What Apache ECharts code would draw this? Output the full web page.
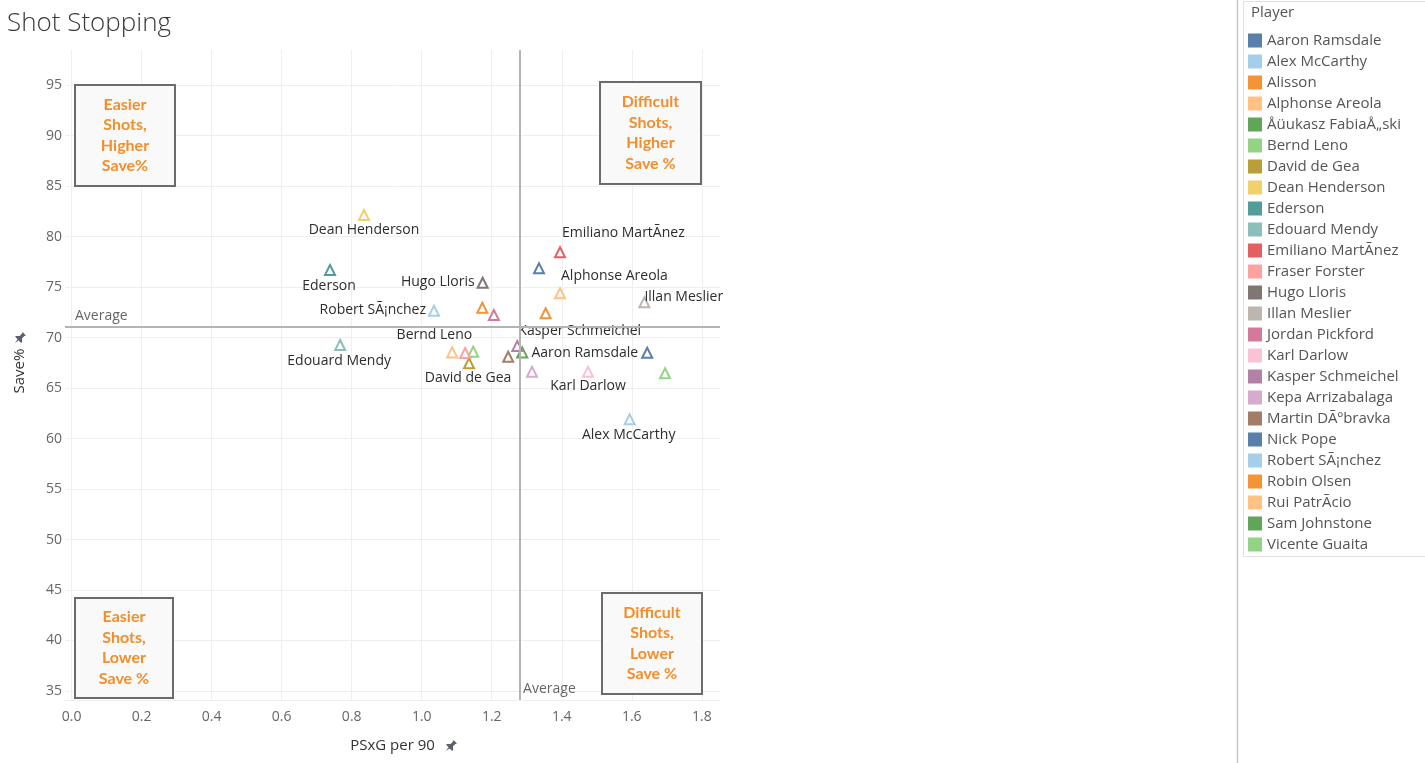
<!DOCTYPE html>
<html><head><meta charset="utf-8">
<script src="https://cdn.jsdelivr.net/npm/echarts@6/dist/echarts.min.js"></script>
<style>html,body{margin:0;padding:0;background:#fff}#c{width:1425px;height:763px}</style>
</head><body><div id="c"></div>
<script>
// ---------------- DATA ----------------
const players = [
  'Aaron Ramsdale','Alex McCarthy','Alisson','Alphonse Areola','Åüukasz FabiaÅ„ski',
  'Bernd Leno','David de Gea','Dean Henderson','Ederson','Edouard Mendy',
  'Emiliano MartÃnez','Fraser Forster','Hugo Lloris','Illan Meslier','Jordan Pickford',
  'Karl Darlow','Kasper Schmeichel','Kepa Arrizabalaga','Martin DÃºbravka','Nick Pope',
  'Robert SÃ¡nchez','Robin Olsen','Rui PatrÃcio','Sam Johnstone','Vicente Guaita'
];
const playerColors = [
  '#4e79a7','#a0cbe8','#f28e2b','#ffbe7d','#59a14f',
  '#8cd17d','#b6992d','#f1ce63','#499894','#86bcb6',
  '#e15759','#ff9d9a','#79706e','#bab0ac','#d37295',
  '#fabfd2','#b07aa1','#d4a6c8','#9d7660','#4e79a7',
  '#a0cbe8','#f28e2b','#ffbe7d','#59a14f','#8cd17d'
];
const psxgPer90 = [
  1.644, 1.594, 1.173, 1.395, 1.287,
  1.147, 1.135, 0.835, 0.738, 0.767,
  1.395, 1.124, 1.174, 1.636, 1.206,
  1.475, 1.273, 1.315, 1.247, 1.335,
  1.035, 1.354, 1.087, null, 1.695
];
const savePct = [
  68.50, 61.90, 72.95, 74.38, 68.53,
  68.60, 67.45, 82.13, 76.68, 69.26,
  78.44, 68.47, 75.43, 73.49, 72.23,
  66.61, 69.16, 66.61, 68.10, 76.85,
  72.65, 72.40, 68.53, null, 66.46
];
const labelledPlayers = [
  'Dean Henderson','Ederson','Hugo Lloris','Robert SÃ¡nchez','Emiliano MartÃnez',
  'Alphonse Areola','Illan Meslier','Edouard Mendy','Bernd Leno','Kasper Schmeichel',
  'Aaron Ramsdale','David de Gea','Karl Darlow','Alex McCarthy'
];
const xTicks = [0, 0.2, 0.4, 0.6, 0.8, 1.0, 1.2, 1.4, 1.6, 1.8];
const yTicks = [35, 40, 45, 50, 55, 60, 65, 70, 75, 80, 85, 90, 95];
const avgPsxg = 1.281;
const avgSave = 71.07;
const quadrantTexts = [
  'Easier\nShots,\nHigher\nSave%',
  'Difficult\nShots,\nHigher\nSave %',
  'Easier\nShots,\nLower\nSave %',
  'Difficult\nShots,\nLower\nSave %'
];

// ---------------- LAYOUT / STYLE ----------------
const labelPlacement = {
  'Dean Henderson':   ['center', 0, 15],
  'Ederson':          ['center', -1, 16],
  'Hugo Lloris':      ['right', -8, -1],
  'Robert SÃ¡nchez':  ['right', -8, -1],
  'Emiliano MartÃnez':['left', 2, -19],
  'Alphonse Areola':  ['left', 1, -17],
  'Illan Meslier':    ['left', 0, -5],
  'Edouard Mendy':    ['center', -1, 16],
  'Bernd Leno':       ['right', -1, -17],
  'Kasper Schmeichel':['left', 1, -15],
  'Aaron Ramsdale':   ['right', -9, 0],
  'David de Gea':     ['center', -1, 15],
  'Karl Darlow':      ['center', 0, 14],
  'Alex McCarthy':    ['center', -1, 16]
};
const quadrantBoxes = [
  {x: 75, y: 85, w: 100, h: 101},
  {x: 600, y: 82, w: 101, h: 102},
  {x: 75, y: 598, w: 98, h: 100},
  {x: 602, y: 593, w: 100, h: 101}
];
const FONT = 'Open Sans, Noto Sans, sans-serif';
const PIN_POINTS = [[3,0],[7,0],[6.4,1.2],[6.4,4],[8.6,6.2],[8.6,7.2],[5.6,7.2],[5,11],[4.4,7.2],[1.4,7.2],[1.4,6.2],[3.6,4],[3.6,1.2]];

const chart = echarts.init(document.getElementById('c'), null, {renderer: 'canvas'});

const series = players.map((name, i) => {
  const data = [];
  if (psxgPer90[i] != null && savePct[i] != null) {
    const item = {value: [psxgPer90[i], savePct[i]], name: name};
    if (labelledPlayers.includes(name)) {
      const p = labelPlacement[name];
      item.label = {
        show: true, position: 'inside', align: p[0], verticalAlign: 'middle',
        offset: [p[1], p[2]], formatter: name,
        color: '#222', fontSize: 14, fontFamily: FONT, textBorderWidth: 0
      };
    }
    data.push(item);
  }
  return {
    name: name,
    type: 'scatter',
    symbol: 'triangle',
    symbolSize: 10,
    data: data,
    itemStyle: {color: 'rgba(255,255,255,0.7)', borderColor: playerColors[i], borderWidth: 2, opacity: 0.95},
    emphasis: {disabled: true},
    z: 3
  };
});

series.push({
  name: '__avg', type: 'scatter', data: [], silent: true, z: 2,
  markLine: {
    silent: true, animation: false, symbol: ['none', 'none'],
    lineStyle: {color: '#b4b4b4', width: 2, type: 'solid'},
    label: {show: false},
    emphasis: {disabled: true},
    data: [{yAxis: avgSave}, {xAxis: avgPsxg}]
  }
});

const option = {
  animation: false,
  backgroundColor: '#fff',
  textStyle: {fontFamily: FONT},
  title: {
    text: 'Shot Stopping', left: 2, top: 6,
    textStyle: {fontSize: 26, fontWeight: 300, color: '#3a3a3a', fontFamily: FONT}
  },
  grid: {left: 65, right: 705, top: 50, bottom: 63, containLabel: false},
  xAxis: {
    type: 'value', min: -0.019, max: 1.852,
    name: 'PSxG per 90', nameLocation: 'middle', nameGap: 38,
    nameTextStyle: {color: '#333', fontSize: 15, fontFamily: FONT},
    axisLine: {show: true, lineStyle: {color: '#eeeeee', width: 1}},
    axisTick: {show: false, customValues: xTicks},
    axisLabel: {customValues: xTicks, color: '#666', fontSize: 14, margin: 10, fontFamily: FONT,
      formatter: v => v.toFixed(1)},
    splitLine: {show: true, customValues: xTicks, lineStyle: {color: '#efefef', width: 1}}
  },
  yAxis: {
    type: 'value', min: 34.11, max: 98.47,
    name: 'Save%', nameLocation: 'middle', nameGap: 38, nameRotate: 90,
    nameTextStyle: {color: '#333', fontSize: 15, fontFamily: FONT, padding: [0, 0, 0, 8]},
    axisLine: {show: false},
    axisTick: {show: false, customValues: yTicks},
    axisLabel: {customValues: yTicks, color: '#666', fontSize: 14, margin: 3, fontFamily: FONT},
    splitLine: {show: true, customValues: yTicks, lineStyle: {color: '#efefef', width: 1}}
  },
  legend: {
    orient: 'vertical', left: 1243, top: 28,
    itemWidth: 14, itemHeight: 14, itemGap: 6,
    icon: 'rect', selectedMode: false,
    textStyle: {color: '#555', fontSize: 15, fontFamily: FONT, padding: [0, 0, 0, 0]},
    data: players.map((n, i) => ({name: n, itemStyle: {color: playerColors[i], borderWidth: 0}}))
  },
  series: series
};
chart.setOption(option);

// Annotations positioned after layout
const hAvgPx = chart.convertToPixel({gridIndex: 0}, [0, avgSave]);
const vAvgPx = chart.convertToPixel({gridIndex: 0}, [avgPsxg, 34.11]);
const graphics = [];
graphics.push({type: 'line', shape: {x1: 1237.5, y1: 0, x2: 1237.5, y2: 763}, style: {stroke: '#c8c8c8', lineWidth: 1.5}, silent: true});
graphics.push({type: 'rect', shape: {x: 1243.5, y: 1.5, width: 190, height: 555}, style: {fill: 'none', stroke: '#e0e0e0', lineWidth: 1}, silent: true});
graphics.push({type: 'text', x: 1251, y: 13, style: {text: 'Player', fill: '#555', fontSize: 15, fontFamily: FONT, verticalAlign: 'middle'}, silent: true});
graphics.push({type: 'text', x: 75, y: hAvgPx[1] - 11, style: {text: 'Average', fill: '#666', fontSize: 14, fontFamily: FONT, verticalAlign: 'middle'}, silent: true});
graphics.push({type: 'text', x: vAvgPx[0] + 3, y: vAvgPx[1] - 11, style: {text: 'Average', fill: '#666', fontSize: 14, fontFamily: FONT, verticalAlign: 'middle'}, silent: true});
// pin icons next to axis titles
graphics.push({type: 'polygon', shape: {points: PIN_POINTS}, x: 446, y: 741, rotation: -Math.PI / 4, originX: 5, originY: 5,
  scaleX: 1.2, scaleY: 1.2, style: {fill: '#5b616b'}, silent: true});
graphics.push({type: 'polygon', shape: {points: PIN_POINTS}, x: 15, y: 333, rotation: -Math.PI / 4, originX: 5, originY: 5,
  scaleX: 1.2, scaleY: 1.2, style: {fill: '#5b616b'}, silent: true});
quadrantBoxes.forEach((b, i) => {
  graphics.push({type: 'rect', shape: {x: b.x, y: b.y, width: b.w, height: b.h},
    style: {fill: '#f9f9f9', stroke: '#6b6b6b', lineWidth: 2}, z: 10, silent: true});
  graphics.push({type: 'text', x: b.x + b.w / 2, y: b.y + b.h / 2, z: 11, silent: true,
    style: {text: quadrantTexts[i], fill: '#f28e2b', fontSize: 16, fontWeight: 'bold', fontFamily: 'Lato, Open Sans, sans-serif',
      align: 'center', verticalAlign: 'middle', lineHeight: 20.5}});
});
chart.setOption({graphic: graphics});
</script></body></html>
